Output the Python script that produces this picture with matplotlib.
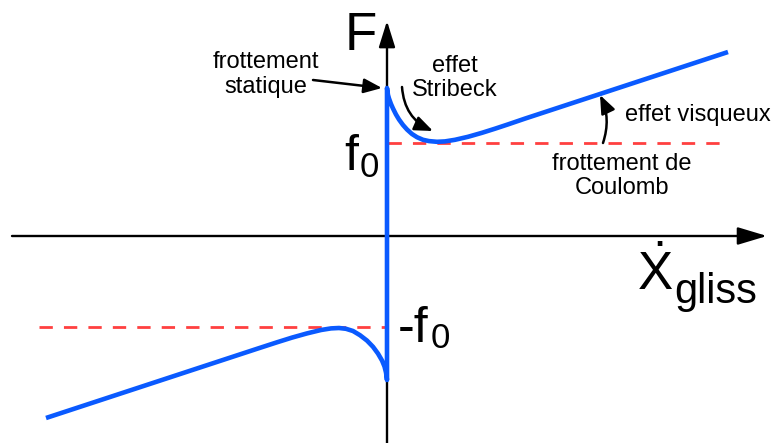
import matplotlib.pyplot as plt
from matplotlib.patches import FancyArrowPatch

plt.rcParams['font.family'] = ['Liberation Sans', 'DejaVu Sans']

# branche vitesse positive (frottement statique -> Stribeck -> visqueux)
v_pos = [0, 1, 2, 4, 6, 9, 12, 16, 20, 25, 30, 36, 42, 50, 58, 68, 81, 95, 108, 121, 138, 341]
F_pos = [148, 141, 137.5, 132, 127.5, 121.5, 116.5, 111, 106.5, 102, 98.8, 96.2, 94.9, 94.2,
         94.6, 96.2, 99.2, 103.2, 107.3, 111.6, 117.4, 184]

# branche vitesse negative
v_neg = [-341, -130, -110, -95, -80, -66, -56, -48, -41, -34, -27, -20, -14, -9, -5, -2.5, -1, 0]
F_neg = [-182, -112.8, -106.3, -101.6, -97.4, -94.0, -92.4, -92.0, -92.8, -95.0, -99.2,
         -104.6, -110.8, -117.6, -124.5, -130.5, -136.5, -144]

# niveaux de Coulomb (f0 et -f0) et etendue des pointilles
f0_haut = 93
f0_bas = -91
coulomb_haut_x = [1, 337]
coulomb_bas_x = [-348, -1]

bleu = '#0a5aff'
rouge = '#ff4040'

fig = plt.figure(figsize=(7.75, 4.43), dpi=100)
ax = fig.add_axes([0, 0, 1, 1])
ax.set_xlim(-387, 388)
ax.set_ylim(-207, 236)
ax.axis('off')


def fleche(p0, p1, lw=1.7, hl=0.55, hw=0.22, rad=0.0, z=4):
    style = '-|>,head_length=%g,head_width=%g' % (hl, hw)
    a = FancyArrowPatch(p0, p1, arrowstyle=style, mutation_scale=20,
                        connectionstyle='arc3,rad=%g' % rad, color='black',
                        lw=lw, shrinkA=0, shrinkB=0, zorder=z)
    ax.add_patch(a)


# axes
fleche((-375, 0), (380, 0), lw=1.7, hl=0.9, hw=0.27, z=1)
fleche((0, -207), (0, 215), lw=1.7, hl=0.8, hw=0.25, z=1)

# frottement de Coulomb
ls = (0, (4.8, 4.0))
ax.plot(coulomb_haut_x, [f0_haut, f0_haut], color=rouge, lw=2.0, linestyle=ls, zorder=2)
ax.plot(coulomb_bas_x, [f0_bas, f0_bas], color=rouge, lw=2.0, linestyle=ls, zorder=2)

# courbe de frottement
ax.plot(v_neg + v_pos, F_neg + F_pos, color=bleu, lw=3.3,
        solid_joinstyle='round', solid_capstyle='butt', zorder=3)

# annotations
fleche((-74, 156), (-5, 148), lw=1.8)
fleche((15, 149), (46, 105), lw=1.8, rad=0.3)
fleche((216, 93), (213, 141), lw=1.8, rad=0.2)

ax.text(-42, 186, 'F', fontsize=38, ha='left', va='baseline')
ax.text(-43, 66, 'f', fontsize=36, ha='left', va='baseline')
ax.text(-27, 59, '0', fontsize=25, ha='left', va='baseline')
ax.text(11, -106, '-f', fontsize=36, ha='left', va='baseline')
ax.text(44, -112, '0', fontsize=25, ha='left', va='baseline')
ax.text(250, -54, r'$\mathregular{\dot{X}}$', fontsize=38, ha='left', va='baseline')
ax.text(287, -67, 'gliss', fontsize=30, ha='left', va='baseline')

ax.text(-121, 161.5, 'frottement\nstatique', fontsize=17, ha='center', va='center',
        linespacing=1.15)
ax.text(68, 158, 'effet\nStribeck', fontsize=17, ha='center', va='center',
        linespacing=1.15)
ax.text(311, 121, 'effet visqueux', fontsize=17, ha='center', va='center')
ax.text(235, 60, 'frottement de\nCoulomb', fontsize=17, ha='center', va='center',
        linespacing=1.15)

fig.savefig('out.png', dpi=100)
